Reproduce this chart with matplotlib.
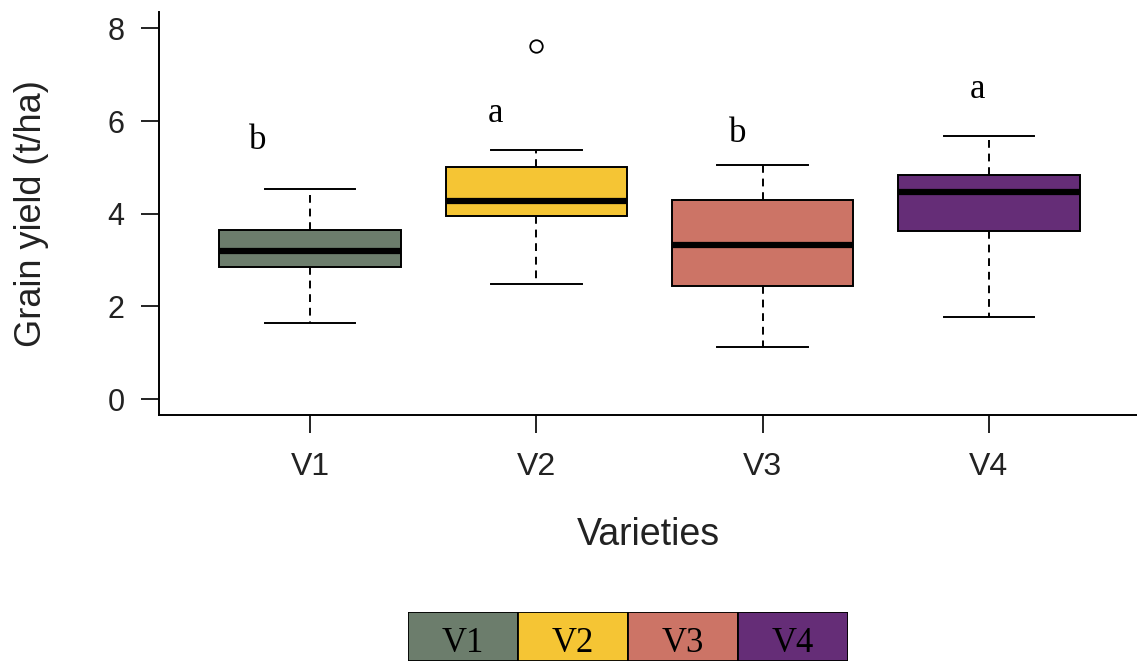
import matplotlib
matplotlib.use("Agg")
import matplotlib.pyplot as plt

varieties = ["V1", "V2", "V3", "V4"]
colors = ["#6c7d6c", "#f5c534", "#cc7466", "#652d77"]
lower_whisker = [1.64, 2.48, 1.13, 1.76]
q1 = [2.86, 3.96, 2.44, 3.62]
median = [3.20, 4.28, 3.33, 4.46]
q3 = [3.65, 5.01, 4.29, 4.84]
upper_whisker = [4.54, 5.38, 5.05, 5.68]
outliers = [[], [7.61], [], []]
letters = ["b", "a", "b", "a"]
letter_y = [5.57, 6.17, 5.74, 6.69]
letter_dx = [-0.23, -0.18, -0.11, -0.05]

W, H = 1137, 661
fig = plt.figure(figsize=(W / 100, H / 100), dpi=100)
ax = fig.add_axes([159 / W, 1 - 415 / H, 1 - 159 / W, (415 - 11.7) / H])

stats = []
for i in range(4):
    stats.append({"whislo": lower_whisker[i], "q1": q1[i], "med": median[i],
                  "q3": q3[i], "whishi": upper_whisker[i], "fliers": outliers[i]})

pos = [1, 2, 3, 4]
bp = ax.bxp(stats, positions=pos, widths=0.8, capwidths=0.4, patch_artist=True,
            boxprops=dict(edgecolor="black", linewidth=1.4),
            medianprops=dict(color="black", linewidth=4.5, solid_capstyle="butt"),
            whiskerprops=dict(color="black", linewidth=1.4, linestyle=(0, (4, 3))),
            capprops=dict(color="black", linewidth=1.4),
            flierprops=dict(marker="o", markersize=9, markerfacecolor="white",
                            markeredgecolor="black", markeredgewidth=1.3))
for patch, c in zip(bp["boxes"], colors):
    patch.set_facecolor(c)

for i in range(4):
    ax.text(pos[i] + letter_dx[i], letter_y[i], letters[i], ha="center", va="center",
            fontsize=25, family="Liberation Serif")

ax.set_xlim(0.333, 4.654)
ax.set_ylim(-0.345, 8.36)
ax.set_yticks([0, 2, 4, 6, 8])
ax.set_xticks(pos)
ax.set_xticklabels(varieties)
for s in ["top", "right"]:
    ax.spines[s].set_visible(False)
ax.spines["left"].set_linewidth(1.4)
ax.spines["bottom"].set_linewidth(1.4)
ax.tick_params(axis="both", length=12.7, width=1.4, colors="#222222")
ax.tick_params(axis="y", labelsize=22, pad=12)
ax.tick_params(axis="x", labelsize=23, pad=14)
for lab in ax.get_xticklabels() + ax.get_yticklabels():
    lab.set_family("Liberation Sans")
ax.set_ylabel("Grain yield (t/ha)", fontsize=26, family="Liberation Sans",
              labelpad=42, color="#222222")
ax.set_xlabel("Varieties", fontsize=27, family="Liberation Sans", labelpad=25,
              color="#222222")

# legend strip at the bottom
lax = fig.add_axes([408 / W, 0, (848 - 408) / W, (661 - 611.7) / H])
lax.bar(range(4), [1] * 4, width=1, color=colors, edgecolor="black", linewidth=1.3,
        align="edge")
for i, v in enumerate(varieties):
    lax.text(i + 0.5, 0.19, v, ha="center", va="baseline", fontsize=25,
             family="Liberation Serif")
lax.set_xlim(0, 4)
lax.set_ylim(0, 1)
lax.axis("off")

fig.savefig("out.png", dpi=100)
